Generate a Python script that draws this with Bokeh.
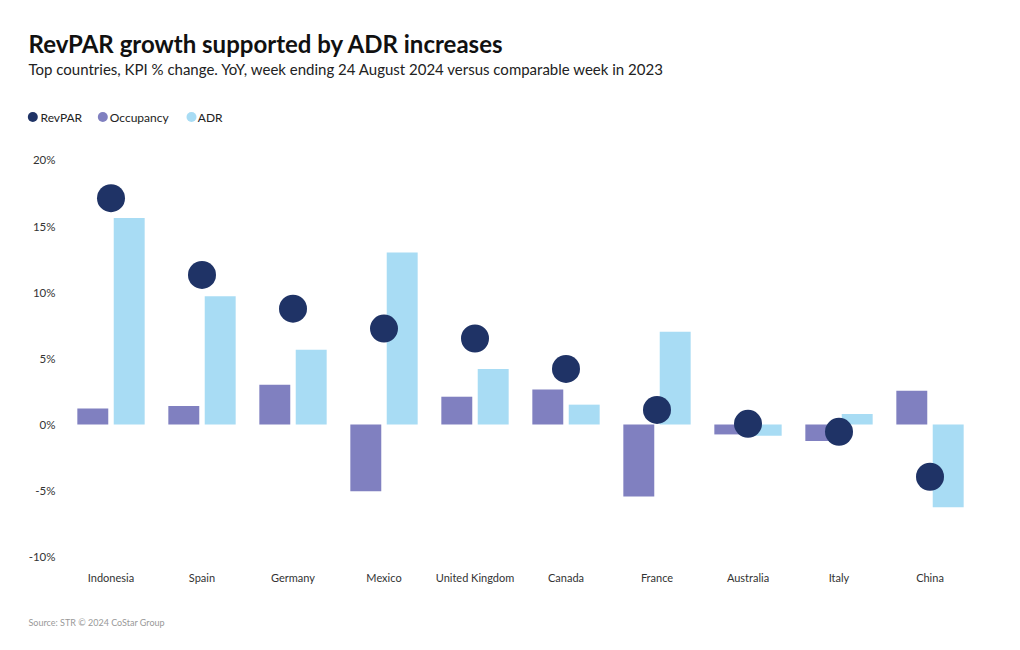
from bokeh.plotting import figure
from bokeh.layouts import column
from bokeh.models import (ColumnDataSource, FactorRange, FixedTicker, CustomJSTickFormatter, Range1d)
from bokeh.core.properties import value
from bokeh.transform import dodge
from bokeh.embed import file_html
from bokeh.resources import INLINE

countries = ["Indonesia", "Spain", "Germany", "Mexico", "United Kingdom",
             "Canada", "France", "Australia", "Italy", "China"]
revpar = [17.1, 11.3, 8.75, 7.25, 6.5, 4.2, 1.1, 0.05, -0.55, -3.95]
occupancy = [1.2, 1.4, 3.0, -5.05, 2.1, 2.65, -5.45, -0.75, -1.25, 2.55]
adr = [15.6, 9.7, 5.65, 13.0, 4.2, 1.5, 7.0, -0.85, 0.8, -6.25]
y_ticks = [-10, -5, 0, 5, 10, 15, 20]
series_names = ["RevPAR", "Occupancy", "ADR"]

NAVY = "#1f3366"
OCC = "#8080c0"
ADR = "#a8dcf4"
FONT = "Lato"
W = 1020
LEFT, RIGHT = 65, 45

# ---------------- header ----------------
# (frames in a column are aligned with the main chart frame: canvas x LEFT..W-RIGHT)
HH = 140
hdr = figure(width=W, height=HH, x_range=Range1d(LEFT, W - RIGHT), y_range=Range1d(HH, 0),
             x_axis_type=None, y_axis_type=None, output_backend="svg", toolbar_location=None,
             min_border_left=LEFT, min_border_right=RIGHT, min_border_top=0, min_border_bottom=0)
hdr.outline_line_color = None
hdr.xgrid.visible = False
hdr.ygrid.visible = False
hdr.text(x=[28], y=[43], text=["RevPAR growth supported by ADR increases"],
         text_font=value(FONT), text_font_style="bold", text_font_size="24px",
         text_color="#111111", text_baseline="middle").level = "overlay"
hdr.text(x=[28], y=[68.5],
         text=["Top countries, KPI % change. YoY, week ending 24 August 2024 versus comparable week in 2023"],
         text_font=value(FONT), text_font_size="15px", text_color="#222222",
         text_baseline="middle").level = "overlay"
leg_src = ColumnDataSource(dict(cx=[32.3, 102.3, 191], tx=[40, 109.3, 197.3], y=[116.5, 116.5, 116.5],
                                name=series_names, color=[NAVY, OCC, ADR]))
hdr.ellipse(x="cx", y="y", width=10, height=10, width_units="screen", height_units="screen",
            fill_color="color", line_color=None, source=leg_src).level = "overlay"
hdr.text(x="tx", y="y", text="name", text_font=value(FONT), text_font_size="12px",
         text_color="#222222", text_baseline="middle", source=leg_src).level = "overlay"

# ---------------- main chart ----------------
MH = 460
TOP_CANVAS = HH
BOTTOM = 34
FRAME_BOTTOM = TOP_CANVAS + MH - BOTTOM  # canvas px
px_per = 13.233
zero_px = 424
y_start = -(FRAME_BOTTOM - zero_px) / px_per
y_end = (zero_px - TOP_CANVAS) / px_per

src = ColumnDataSource(dict(country=countries, revpar=revpar, occ=occupancy, adr=adr))

p = figure(width=W, height=MH, x_range=FactorRange(factors=countries, range_padding=0),
           y_range=(y_start, y_end), output_backend="svg", toolbar_location=None,
           min_border_left=LEFT, min_border_right=RIGHT, min_border_top=0,
           min_border_bottom=BOTTOM)
p.outline_line_color = None
p.xgrid.grid_line_color = None
p.ygrid.grid_line_color = None

p.vbar(x=dodge("country", -0.2, range=p.x_range), top="occ", bottom=0, width=0.34,
       source=src, fill_color=OCC, line_color=None)
p.vbar(x=dodge("country", 0.2, range=p.x_range), top="adr", bottom=0, width=0.34,
       source=src, fill_color=ADR, line_color=None)
p.scatter(x="country", y="revpar", size=28, source=src, fill_color=NAVY, line_color=None)

yax = p.yaxis[0]
yax.ticker = FixedTicker(ticks=y_ticks)
yax.formatter = CustomJSTickFormatter(code="return tick + '%'")
yax.axis_line_color = None
yax.major_tick_line_color = None
yax.minor_tick_line_color = None
yax.major_tick_out = 0
yax.major_tick_in = 0
yax.major_label_standoff = 10
yax.major_label_text_font = FONT
yax.major_label_text_font_size = "11.5px"
yax.major_label_text_color = "#333333"

xax = p.xaxis[0]
xax.axis_line_color = None
xax.major_tick_line_color = None
xax.minor_tick_line_color = None
xax.major_tick_out = 0
xax.major_tick_in = 0
xax.major_label_standoff = 4
xax.major_label_text_font = FONT
xax.major_label_text_font_size = "11px"
xax.major_label_text_color = "#333333"

# ---------------- footer ----------------
FH = 650 - HH - MH
ftr = figure(width=W, height=FH, x_range=Range1d(LEFT, W - RIGHT), y_range=Range1d(FH, 0),
             x_axis_type=None, y_axis_type=None, output_backend="svg", toolbar_location=None,
             min_border_left=LEFT, min_border_right=RIGHT, min_border_top=0, min_border_bottom=0)
ftr.outline_line_color = None
ftr.xgrid.visible = False
ftr.ygrid.visible = False
ftr.text(x=[28], y=[622 - (HH + MH)], text=["Source: STR \u00a9 2024 CoStar Group"],
         text_font=value(FONT), text_font_size="9px", text_color="#999999",
         text_baseline="middle").level = "overlay"

layout = column(hdr, p, ftr, spacing=0)
open("out.html", "w").write(file_html(layout, INLINE))
